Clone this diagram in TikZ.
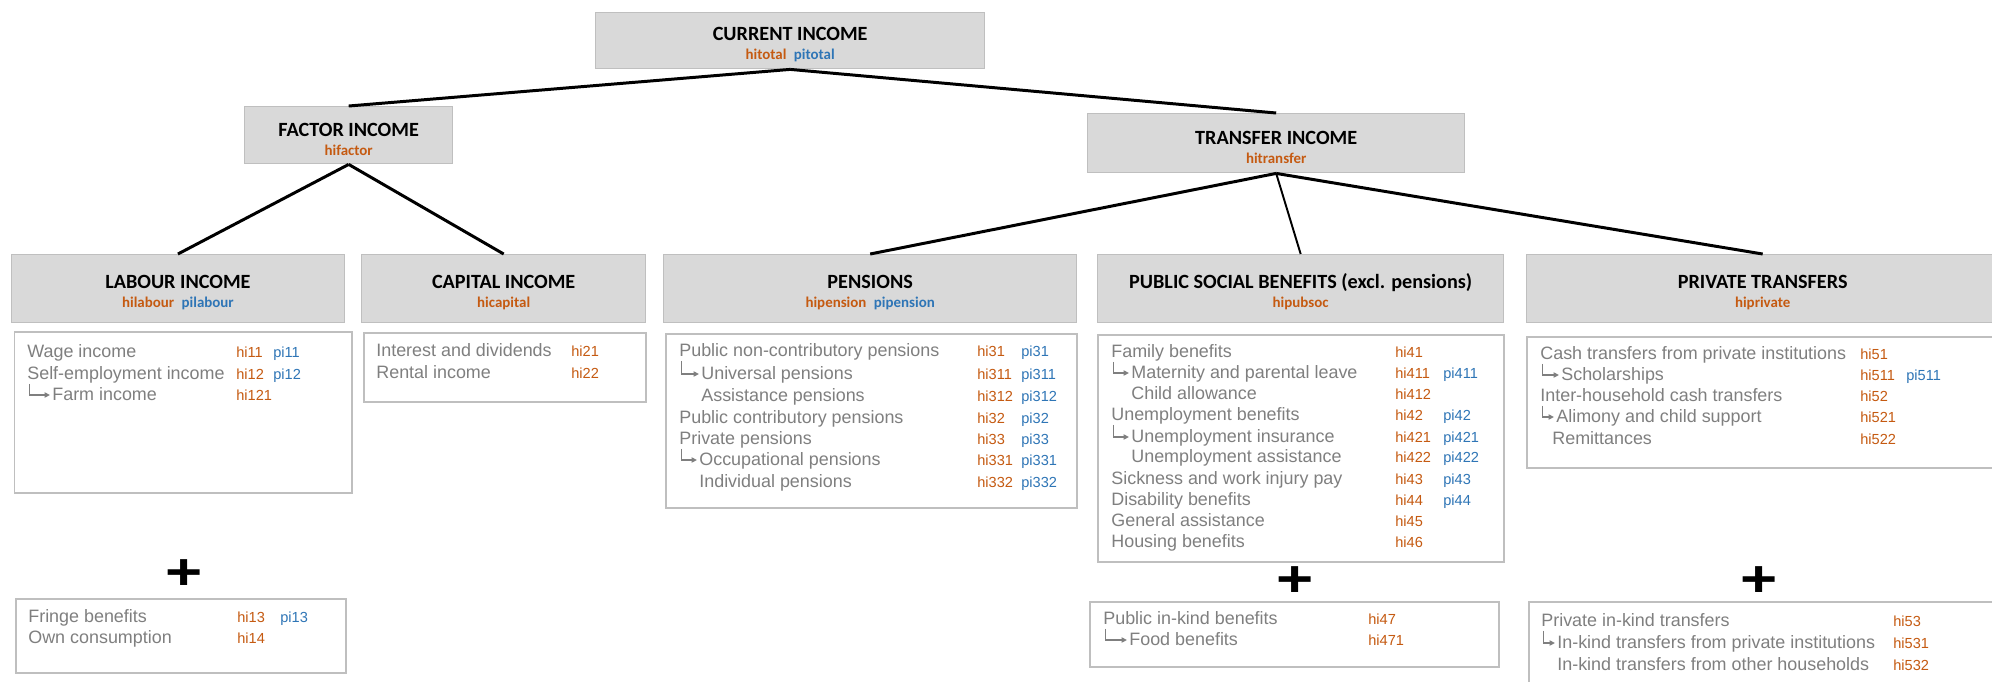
\documentclass[tikz,border=0pt]{standalone}
\usepackage{fontspec}
\setmainfont{Liberation Sans}
\newfontfamily\headfont{Carlito}
\usepackage{xcolor}
\usetikzlibrary{positioning,arrows.meta}
\definecolor{hicol}{HTML}{C55A11}
\definecolor{picol}{HTML}{2E75B6}
\definecolor{txtgray}{HTML}{7F7F7F}
\definecolor{headfill}{HTML}{D9D9D9}
\definecolor{edgegray}{HTML}{BFBFBF}
\newcommand{\codesize}{\fontsize{8.5}{10}\selectfont}
\newcommand{\hivar}[1]{\textcolor{hicol}{#1}}
\newcommand{\pivar}[1]{\textcolor{picol}{#1}}
\newcommand{\headstrut}{\rule{0pt}{12pt}}
\tikzstyle{lineitem} = [anchor=west, inner sep=0pt, text=txtgray, font=\fontsize{10.2}{12}\selectfont, text height=8.8pt, text depth=2pt]
\tikzstyle{hicode} = [anchor=west, inner sep=0pt, text=hicol, font=\fontsize{8.3}{10}\selectfont, text height=7.5pt, text depth=1.5pt]
\tikzstyle{picode} = [hicode, text=picol]
\tikzstyle{treelink} = [draw=black, line width=1.7pt]
\tikzstyle{subarrow} = [draw=txtgray, line width=0.6pt, -{Triangle[length=3pt,width=3pt]}]
\tikzstyle{plussign} = [font=\bfseries\fontsize{29}{29}\selectfont, inner sep=0pt]

\begin{document}
\begin{tikzpicture}[x=0.02cm, y=-0.02cm,
  head/.style 2 args={
    rectangle,
    draw=edgegray,
    line width=0.8pt,
    fill=headfill,
    minimum width=#1,
    minimum height=#2,
    anchor=north west,
    inner sep=0pt,
    align=center,
    font=\headfont\bfseries\fontsize{11.5}{11}\selectfont},
  panel/.style 2 args={
    rectangle,
    draw=edgegray,
    line width=1pt,
    fill=white,
    minimum width=#1,
    minimum height=#2,
    anchor=north west,
    inner sep=0pt}]
  \useasboundingbox (0,0) rectangle (1992,681);
  % draw aggregate boxes
  \node[head={7.78cm}{1.12cm}] (cur) at (595,12) {\headstrut CURRENT INCOME\\{\codesize\hivar{hitotal}\hspace{.5em}\pivar{pitotal}}};
  \node[head={4.16cm}{1.14cm}] (fac) at (244,106) {\headstrut FACTOR INCOME\\{\codesize\hivar{hifactor}}};
  \node[head={7.54cm}{1.18cm}] (tra) at (1087,113) {\headstrut TRANSFER INCOME\\{\codesize\hivar{hitransfer}}};
  % draw component boxes
  \node[head={6.67cm}{1.36cm}] (lab) at (10.5,254) {\headstrut LABOUR INCOME\\{\codesize\hivar{hilabour}\hspace{.5em}\pivar{pilabour}}};
  \node[head={5.68cm}{1.36cm}] (cap) at (361,254) {\headstrut CAPITAL INCOME\\{\codesize\hivar{hicapital}}};
  \node[head={8.26cm}{1.36cm}] (pen) at (663,254) {\headstrut PENSIONS\\{\codesize\hivar{hipension}\hspace{.5em}\pivar{pipension}}};
  \node[head={8.12cm}{1.36cm}] (pub) at (1097,254) {\headstrut PUBLIC SOCIAL BENEFITS (excl. pensions)\\{\codesize\hivar{hipubsoc}}};
  \node[head={9.44cm}{1.36cm}] (pri) at (1526,254) {\headstrut PRIVATE TRANSFERS\\{\codesize\hivar{hiprivate}}};
  % draw tree links
  \foreach \a/\b in {cur/fac, cur/tra, fac/lab, fac/cap, tra/pen, tra/pri}
    \draw[treelink] (\a.south) -- (\b.north);
  \draw[treelink, line width=1.1pt] (tra.south) -- (pub.north);
  % draw detail panels
  \node[panel={6.76cm}{3.22cm}] (labd) at (13.5,331) {};
  \node[panel={5.64cm}{1.38cm}] (capd) at (363,332) {};
  \node[panel={8.22cm}{3.48cm}] (pend) at (665,333) {};
  \node[panel={8.12cm}{4.54cm}] (pubd) at (1097,334) {};
  \node[panel={9.6cm}{2.62cm}] (prid) at (1526,336) {};
  \node[panel={6.6cm}{1.48cm}] (labk) at (15,598) {};
  \node[panel={8.18cm}{1.3cm}] (pubk) at (1089,601) {};
  \node[panel={9.6cm}{2cm}] (prik) at (1528,601) {};
  % draw plus signs
  \foreach \x/\y [count=\k] in {184/575, 1295/582, 1759/582}
    \node[plussign] (plus\k) at (\x,\y) {\scalebox{1.25}[1]{+}};
  % labour income items
  \foreach \x/\y/\txt/\hi/\pc [count=\k] in {27/352/Wage income/hi11/pi11,
      27/374/Self-employment income/hi12/pi12, 52/395/Farm income/hi121/} {
    \node[lineitem] (lab\k) at (\x,\y) {\txt};
    \node[hicode] (labhi\k) at (236,\y) {\hi};
    \ifx\pc\empty\else\node[picode] (labpi\k) at (273,\y) {\pc};\fi
  }
  % capital income items
  \foreach \x/\y/\txt/\hi [count=\k] in {376/351/Interest and dividends/hi21,
      376/373/Rental income/hi22}
    \node[lineitem] (cap\k) at (\x,\y) {\txt} (\x+195,\y) node[hicode] (caphi\k) {\hi};
  % pension items
  \foreach \x/\y/\txt/\hi/\pc [count=\k] in {679/351/Public non-contributory pensions/hi31/pi31,
      701/374/Universal pensions/hi311/pi311, 701/396/Assistance pensions/hi312/pi312,
      679/418/Public contributory pensions/hi32/pi32, 679/439/Private pensions/hi33/pi33,
      699/460/Occupational pensions/hi331/pi331, 699/482/Individual pensions/hi332/pi332} {
    \node[lineitem] (pen\k) at (\x,\y) {\txt};
    \node[hicode] (penhi\k) at (977,\y) {\hi};
    \node[picode] (penpi\k) at (1021,\y) {\pc};
  }
  % public social benefit items
  \foreach \x/\y/\txt/\hi/\pc [count=\k] in {1111/352/Family benefits/hi41/,
      1131/373/Maternity and parental leave/hi411/pi411, 1131/394/Child allowance/hi412/,
      1111/415/Unemployment benefits/hi42/pi42, 1131/437/Unemployment insurance/hi421/pi421,
      1131/457/Unemployment assistance/hi422/pi422, 1111/479/Sickness and work injury pay/hi43/pi43,
      1111/500/Disability benefits/hi44/pi44, 1111/521/General assistance/hi45/,
      1111/542/Housing benefits/hi46/} {
    \node[lineitem] (pub\k) at (\x,\y) {\txt};
    \node[hicode] (pubhi\k) at (1395,\y) {\hi};
    \ifx\pc\empty\else\node[picode] (pubpi\k) at (1443,\y) {\pc};\fi
  }
  % private transfer items
  \foreach \x/\y/\txt/\hi/\pc [count=\k] in {1540/354/Cash transfers from private institutions/hi51/,
      1561/375/Scholarships/hi511/pi511, 1540/396/Inter-household cash transfers/hi52/,
      1556/417/Alimony and child support/hi521/, 1552/439/Remittances/hi522/} {
    \node[lineitem] (pri\k) at (\x,\y) {\txt};
    \node[hicode] (prihi\k) at (1860,\y) {\hi};
    \ifx\pc\empty\else\node[picode] (pripi\k) at (1906,\y) {\pc};\fi
  }
  % in-kind items
  \foreach \x/\y/\txt/\hi/\pc [count=\k] in {28/617/Fringe benefits/hi13/pi13,
      28/638/Own consumption/hi14/} {
    \node[lineitem] (labk\k) at (\x,\y) {\txt};
    \node[hicode] (labkhi\k) at (237,\y) {\hi};
    \ifx\pc\empty\else\node[picode] (labkpi\k) at (280,\y) {\pc};\fi
  }
  \foreach \x/\y/\txt/\hi [count=\k] in {1103/619/Public in-kind benefits/hi47,
      1129/640/Food benefits/hi471}
    \node[lineitem] (pubk\k) at (\x,\y) {\txt} (1368,\y) node[hicode] (pubkhi\k) {\hi};
  \foreach \x/\y/\txt/\hi [count=\k] in {1541/621/Private in-kind transfers/hi53,
      1557/643/In-kind transfers from private institutions/hi531,
      1557/665/In-kind transfers from other households/hi532}
    \node[lineitem] (prik\k) at (\x,\y) {\txt} (1893,\y) node[hicode] (prikhi\k) {\hi};
  % draw sub-item arrows
  \foreach \a/\b in {lab2/lab3, pen1/pen2, pen5/pen6, pub1/pub2, pub4/pub5,
      pri1/pri2, pri3/pri4, pubk1/pubk2, prik1/prik2}
    \draw[subarrow] ([xshift=1.2pt]\a.south west) |- ([xshift=-1.2pt]\b.west);
\end{tikzpicture}
\end{document}
